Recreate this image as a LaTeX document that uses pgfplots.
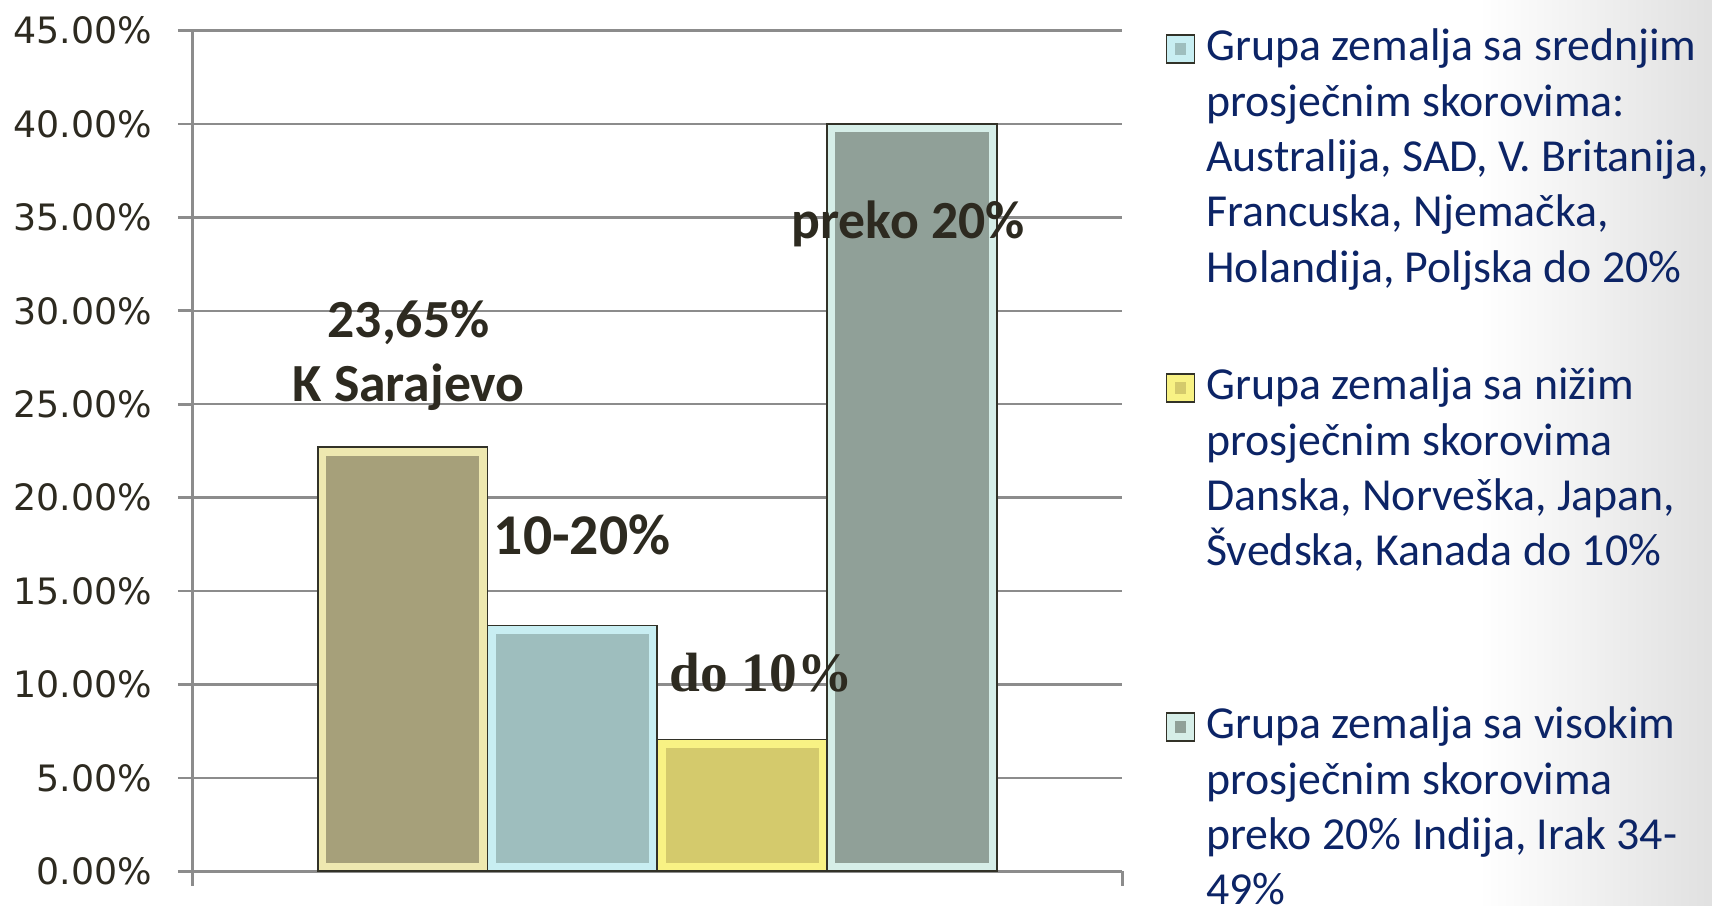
\documentclass[border=0pt]{standalone}
\usepackage{fontspec}
\setmainfont{Carlito}
\newfontfamily\dejavu{DejaVu Sans}
\newfontfamily\libserif{Liberation Serif}
\usepackage{pgfplots}
\pgfplotsset{compat=1.18}

\definecolor{gridgray}{RGB}{140,140,140}
\definecolor{txt}{RGB}{45,42,32}
\definecolor{navy}{RGB}{12,36,102}
\definecolor{edge}{RGB}{50,50,40}
\definecolor{fA}{RGB}{166,160,122}\definecolor{bA}{RGB}{238,232,176}
\definecolor{fB}{RGB}{158,190,190}\definecolor{bB}{RGB}{200,238,242}
\definecolor{fC}{RGB}{212,202,108}\definecolor{bC}{RGB}{248,242,132}
\definecolor{fD}{RGB}{144,160,152}\definecolor{bD}{RGB}{214,238,232}

\tikzset{bevel/.style={path picture={\path[path picture={}, draw=#1, fill=none, line width=5pt] (path picture bounding box.south west) rectangle (path picture bounding box.north east);}}}
\newcommand\legtext[1]{\parbox[t][101.7pt][t]{185pt}{\raggedright\fontsize{13.75pt}{16.6pt}\selectfont\leavevmode\strut\color{navy}#1}}
\newcommand\barlab{\bfseries\fontsize{16.1pt}{19pt}\selectfont}

\begin{document}
\begin{tikzpicture}
\useasboundingbox (-57.66pt,-10.41pt) rectangle (455.94pt,261.39pt);
\shade[left color=white, right color=black!12] (386pt,-10.41pt) rectangle (455.94pt,261.39pt);
\begin{axis}[
  at={(0pt,0pt)}, anchor=south west,
  scale only axis, width=279.06pt, height=252.21pt,
  xmin=-1.239, xmax=4.239, ymin=0, ymax=45,
  clip=false,
  axis x line*=bottom, axis y line*=left,
  axis line style={draw=gridgray, line width=0.8pt},
  xtick={-1.239,4.239}, xticklabels={},
  ytick={0,5,10,15,20,25,30,35,40,45},
  tick align=outside, major tick length=4.3pt,
  tick style={draw=gridgray, line width=0.8pt},
  ymajorgrids, grid style={draw=gridgray, line width=0.75pt},
  /pgf/number format/assume math mode=true,
  yticklabel={\pgfmathprintnumber[fixed,fixed zerofill,precision=2]{\tick}\%},
  yticklabel style={font=\dejavu\fontsize{10.9pt}{12pt}\selectfont, text=txt, anchor=east, inner sep=0pt, xshift=-7.5pt},
  legend style={at={(1.0458,1.0109)}, anchor=north west, draw=none, fill=none,
    inner sep=0pt, column sep=3.3pt, row sep=0pt,
    nodes={inner sep=0pt, text depth={}, anchor=base west},
    cells={anchor=base west}},
]
\addplot[ybar, bar width=1, bar shift=0pt, fill=fA, draw=edge, line width=0.5pt, bevel=bA, forget plot] coordinates {(0,22.7)};
\addplot[ybar, bar width=1, bar shift=0pt, fill=fB, draw=edge, line width=0.5pt, bevel=bB,
  legend image code/.code={\draw[fill=fB, draw=edge, line width=0.5pt, bevel=bB] (0pt,-0.6pt) rectangle (8.4pt,7.8pt);}] coordinates {(1,13.15)};
\addlegendentry{\legtext{Grupa zemalja sa srednjim\\prosječnim skorovima:\\Australija, SAD, V. Britanija,\\Francuska, Njemačka,\\Holandija, Poljska do 20\%}}
\addplot[ybar, bar width=1, bar shift=0pt, fill=fC, draw=edge, line width=0.5pt, bevel=bC,
  legend image code/.code={\draw[fill=fC, draw=edge, line width=0.5pt, bevel=bC] (0pt,-0.6pt) rectangle (8.4pt,7.8pt);}] coordinates {(2,7.05)};
\addlegendentry{\legtext{Grupa zemalja sa nižim\\prosječnim skorovima\\Danska, Norveška, Japan,\\Švedska, Kanada do 10\%}}
\addplot[ybar, bar width=1, bar shift=0pt, fill=fD, draw=edge, line width=0.5pt, bevel=bD,
  legend image code/.code={\draw[fill=fD, draw=edge, line width=0.5pt, bevel=bD] (0pt,-0.6pt) rectangle (8.4pt,7.8pt);}] coordinates {(3,40.0)};
\addlegendentry{\legtext{Grupa zemalja sa visokim\\prosječnim skorovima\\preko 20\% Indija, Irak 34-\\49\%}}

\node[font=\barlab, text=txt, anchor=base, inner sep=0pt] at (axis cs:0.035,28.55) {23,65\%};
\node[font=\barlab, text=txt, anchor=base, inner sep=0pt] at (axis cs:0.035,25.14) {K Sarajevo};
\node[font=\bfseries\fontsize{17.3pt}{20pt}\selectfont, text=txt, anchor=base, inner sep=0pt] at (axis cs:1.057,16.93) {10-20\%};
\node[font=\libserif\bfseries\fontsize{16.6pt}{19pt}\selectfont, text=txt, anchor=base, inner sep=0pt] at (axis cs:2.11,9.61) {do 10\%};
\node[font=\barlab, text=txt, anchor=base, inner sep=0pt] at (axis cs:2.977,33.89) {preko 20\%};
\end{axis}
\end{tikzpicture}
\end{document}
